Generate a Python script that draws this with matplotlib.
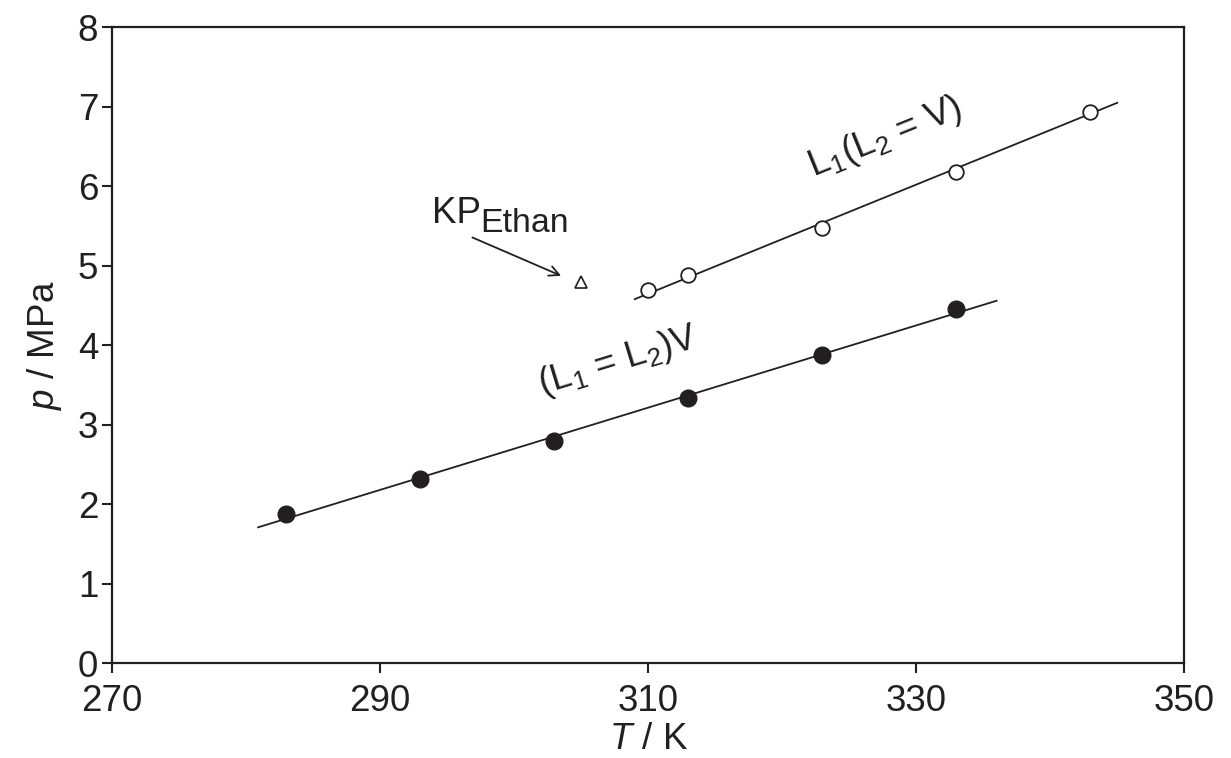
import matplotlib
matplotlib.use("Agg")
import matplotlib.pyplot as plt

plt.rcParams["font.family"] = ["Liberation Sans", "DejaVu Sans"]
plt.rcParams["mathtext.fontset"] = "custom"
plt.rcParams["mathtext.rm"] = "Liberation Sans"
plt.rcParams["mathtext.it"] = "Liberation Sans:italic"

# L1 = L2 + V (filled) and L1 + (L2 = V) (open)
t_llv = [283, 293, 303, 313, 323, 333]
p_llv = [1.88, 2.32, 2.80, 3.34, 3.88, 4.45]
t_crit = [310, 313, 323, 333, 343]
p_crit = [4.70, 4.89, 5.48, 6.18, 6.94]
# fitted lines (end points)
t_fit_llv = [280.9, 336.0]
p_fit_llv = [1.71, 4.56]
t_fit_crit = [309.0, 345.0]
p_fit_crit = [4.58, 7.05]
# critical point of ethane
t_kp = [305.0]
p_kp = [4.79]

fs = 26.5
ink = "#231f20"
fig = plt.figure(figsize=(12.31, 7.58), dpi=100)
ax = fig.add_axes([0.091, 0.125, 0.871, 0.839])

ax.plot(t_fit_llv, p_fit_llv, color=ink, lw=1.3)
ax.plot(t_fit_crit, p_fit_crit, color=ink, lw=1.3)
ax.plot(t_llv, p_llv, "o", color=ink, ms=12)
ax.plot(t_crit, p_crit, "o", mfc="white", mec=ink, mew=1.3, ms=10.5)
ax.plot(t_kp, p_kp, "^", mfc="white", mec=ink, mew=1.2, ms=9)

ax.text(327.7, 6.62, r"L$\mathregular{_1}$(L$\mathregular{_2}$ = V)", fontsize=fs,
        rotation=22, ha="center", va="center", rotation_mode="anchor", color=ink)
ax.text(307.8, 3.80, r"(L$\mathregular{_1}$ = L$\mathregular{_2}$)V", fontsize=fs,
        rotation=17, ha="center", va="center", rotation_mode="anchor", color=ink)
ax.text(293.9, 5.54, "KP", fontsize=fs, ha="left", va="baseline", color=ink)
ax.text(297.5, 5.42, "Ethan", fontsize=fs * 0.92, ha="left", va="baseline", color=ink)
ax.annotate("", xy=(303.7, 4.86), xytext=(296.7, 5.37),
            arrowprops=dict(arrowstyle="->", color=ink, lw=1.3,
                            mutation_scale=18))

ax.set_xlim(270, 350)
ax.set_ylim(0, 8)
ax.set_xticks([270, 290, 310, 330, 350])
ax.set_yticks(range(0, 9))
ax.tick_params(direction="out", length=7, width=1.5, labelsize=fs,
               top=False, right=False, color=ink, labelcolor=ink)
ax.tick_params(axis="x", pad=8)
ax.tick_params(axis="y", pad=3)
for s in ax.spines.values():
    s.set_linewidth(1.6)
    s.set_color(ink)
ax.set_xlabel(r"$\mathit{T}$ / K", fontsize=fs, color=ink, labelpad=2)
ax.set_ylabel(r"$\mathit{p}$ / MPa", fontsize=fs, color=ink, labelpad=10)

fig.savefig("out.png", dpi=100)
